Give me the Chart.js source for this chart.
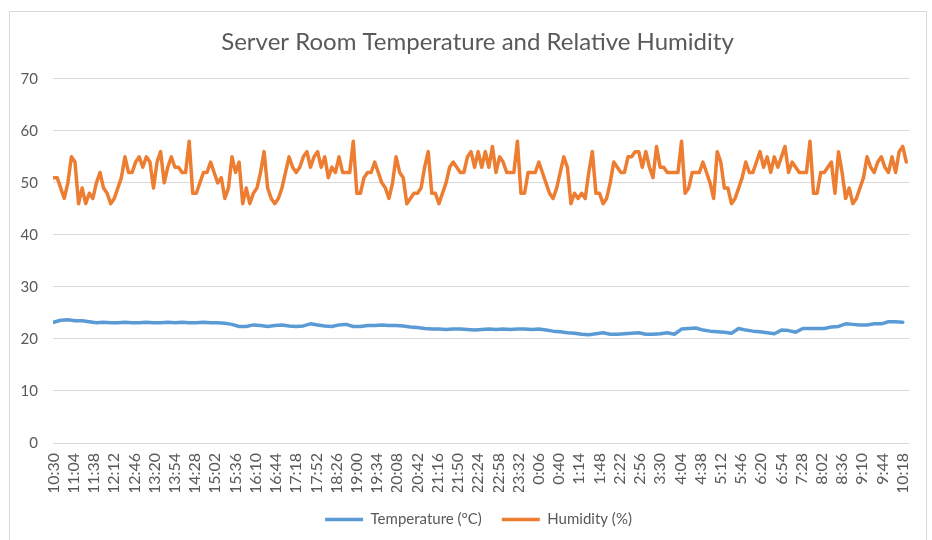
<!DOCTYPE html>
<html>
<head>
<meta charset="utf-8">
<title>Server Room Temperature and Relative Humidity</title>
<script src="https://cdn.jsdelivr.net/npm/chart.js@4"></script>
<style>
    html, body { margin: 0; padding: 0; background: #fff; }
    #wrap { position: relative; width: 932px; height: 540px; overflow: hidden; }
    #frame {
        position: absolute; left: 9px; top: 11px; width: 918px; height: 560px;
        border: 1px solid #d9d9d9; box-sizing: border-box; pointer-events: none;
    }
    canvas { position: absolute; left: 0; top: 0; }
</style>
</head>
<body>
<div id="wrap">
    <canvas id="envChart" width="932" height="540"></canvas>
    <div id="frame"></div>
</div>
<script>
// ============================================
// DATA
// ============================================

// Axis labels, one every 34 minutes starting 10:30
const timeLabels = ['10:30', '11:04', '11:38', '12:12', '12:46', '13:20', '13:54', '14:28', '15:02', '15:36',
    '16:10', '16:44', '17:18', '17:52', '18:26', '19:00', '19:34', '20:08', '20:42', '21:16',
    '21:50', '22:24', '22:58', '23:32', '0:06', '0:40', '1:14', '1:48', '2:22', '2:56',
    '3:30', '4:04', '4:38', '5:12', '5:46', '6:20', '6:54', '7:28', '8:02', '8:36',
    '9:10', '9:44', '10:18'];
const labelStep = 34;   // minutes between axis labels

// Relative humidity (%), one reading every 6 minutes
const humidityStep = 6;
const humidity = [
    51, 51, 49, 47, 50, 55, 54, 46, 49, 46,
    48, 47, 50, 52, 49, 48, 46, 47, 49, 51,
    55, 52, 52, 54, 55, 53, 55, 54, 49, 54,
    56, 50, 53, 55, 53, 53, 52, 52, 58, 48,
    48, 50, 52, 52, 54, 52, 50, 51, 47, 49,
    55, 52, 54, 46, 49, 46, 48, 49, 52, 56,
    49, 47, 46, 47, 49, 52, 55, 53, 52, 53,
    55, 56, 53, 55, 56, 53, 55, 51, 53, 52,
    55, 52, 52, 52, 58, 48, 48, 51, 52, 52,
    54, 52, 50, 49, 47, 50, 55, 52, 51, 46,
    47, 48, 48, 49, 53, 56, 48, 48, 46, 48,
    50, 53, 54, 53, 52, 52, 55, 56, 53, 56,
    53, 56, 53, 57, 52, 55, 54, 52, 52, 52,
    58, 48, 48, 52, 52, 52, 54, 52, 50, 48,
    47, 49, 52, 55, 53, 46, 48, 47, 48, 47,
    52, 56, 48, 48, 46, 47, 50, 54, 53, 52,
    52, 55, 55, 56, 56, 53, 56, 53, 51, 57,
    53, 53, 52, 52, 52, 52, 58, 48, 49, 52,
    52, 52, 54, 52, 50, 47, 56, 54, 49, 49,
    46, 47, 49, 51, 54, 52, 52, 54, 56, 53,
    55, 52, 55, 53, 55, 57, 52, 54, 53, 52,
    52, 52, 58, 48, 48, 52, 52, 53, 54, 48,
    56, 52, 47, 49, 46, 47, 49, 51, 55, 53,
    52, 54, 55, 53, 52, 55, 52, 56, 57, 54
];

// Temperature (°C), one reading every 12 minutes
const temperatureStep = 12;
const temperature = [
    23.2, 23.6, 23.7, 23.5, 23.5, 23.3, 23.1, 23.2, 23.1, 23.1,
    23.2, 23.1, 23.1, 23.2, 23.1, 23.1, 23.2, 23.1, 23.2, 23.1,
    23.1, 23.2, 23.1, 23.1, 23.0, 22.8, 22.4, 22.4, 22.7, 22.6,
    22.4, 22.6, 22.7, 22.5, 22.4, 22.5, 22.9, 22.7, 22.5, 22.4,
    22.7, 22.8, 22.4, 22.4, 22.6, 22.6, 22.7, 22.6, 22.6, 22.5,
    22.3, 22.2, 22.0, 21.9, 21.9, 21.8, 21.9, 21.9, 21.8, 21.7,
    21.8, 21.9, 21.8, 21.9, 21.8, 21.9, 21.9, 21.8, 21.9, 21.7,
    21.5, 21.4, 21.2, 21.1, 20.9, 20.8, 21.0, 21.2, 20.9, 20.9,
    21.0, 21.1, 21.2, 20.9, 20.9, 21.0, 21.2, 20.9, 21.9, 22.0,
    22.1, 21.7, 21.5, 21.4, 21.3, 21.1, 22.0, 21.7, 21.5, 21.4,
    21.2, 21.0, 21.7, 21.6, 21.3, 22.0, 22.0, 22.0, 22.0, 22.3,
    22.4, 22.9, 22.8, 22.7, 22.7, 22.9, 22.9, 23.3, 23.3, 23.2
];

const yTicks = [0, 10, 20, 30, 40, 50, 60, 70];

// ============================================
// CHART
// ============================================

const TEXT_COLOR = '#595959';
const GRID_COLOR = '#d9d9d9';

Chart.defaults.font.family = 'Lato, "Open Sans", sans-serif';
Chart.defaults.color = TEXT_COLOR;

function toPoints(values, step) {
    return values.map((v, i) => ({ x: i * step, y: v }));
}

// Excel centres title and legend a little right of the canvas middle
const blockNudge = {
    id: 'blockNudge',
    afterLayout(chart) {
        [[chart.titleBlock, 15], [chart.legend, 16]].forEach(([box, dx]) => {
            if (box) {
                box.left += dx;
                box.right += dx;
            }
        });
    }
};

const ctx = document.getElementById('envChart').getContext('2d');
new Chart(ctx, {
    type: 'line',
    data: {
        datasets: [{
            label: 'Temperature (°C)',
            data: toPoints(temperature, temperatureStep),
            borderColor: '#5b9bd5',
            backgroundColor: '#5b9bd5',
            borderWidth: 3.5,
            borderJoinStyle: 'round',
            borderCapStyle: 'round',
            pointRadius: 0,
            tension: 0
        }, {
            label: 'Humidity (%)',
            data: toPoints(humidity, humidityStep),
            borderColor: '#ed7d31',
            backgroundColor: '#ed7d31',
            borderWidth: 3.5,
            borderJoinStyle: 'round',
            borderCapStyle: 'round',
            pointRadius: 0,
            tension: 0
        }]
    },
    plugins: [blockNudge],
    options: {
        responsive: false,
        animation: false,
        layout: { padding: { left: 0, right: 7, top: 0, bottom: 3 } },
        plugins: {
            title: {
                display: true,
                text: 'Server Room Temperature and Relative Humidity',
                color: TEXT_COLOR,
                font: { size: 24, weight: 'normal' },
                padding: { top: 28, bottom: 22 }
            },
            legend: {
                position: 'bottom',
                labels: {
                    usePointStyle: true,
                    pointStyle: 'line',
                    pointStyleWidth: 38,
                    boxHeight: 15,
                    padding: 20,
                    color: TEXT_COLOR,
                    font: { size: 15 }
                }
            },
            tooltip: { enabled: false }
        },
        scales: {
            x: {
                type: 'linear',
                min: -1,
                max: 1439,
                afterBuildTicks: axis => {
                    axis.ticks = timeLabels.map((_, i) => ({ value: i * labelStep }));
                },
                afterFit: scale => { scale.height = 49; },
                grid: { display: false, drawTicks: false },
                border: { display: false },
                ticks: {
                    autoSkip: false,
                    minRotation: 90,
                    maxRotation: 90,
                    padding: 10,
                    font: { size: 16 },
                    callback: (value, index) => timeLabels[index]
                }
            },
            y: {
                min: 0,
                max: 70,
                afterBuildTicks: axis => {
                    axis.ticks = yTicks.map(v => ({ value: v }));
                },
                afterFit: scale => { scale.width = 53; },
                grid: { color: GRID_COLOR, drawTicks: false },
                border: { display: false },
                ticks: {
                    padding: 15,
                    font: { size: 15 }
                }
            }
        }
    }
});
</script>
</body>
</html>
